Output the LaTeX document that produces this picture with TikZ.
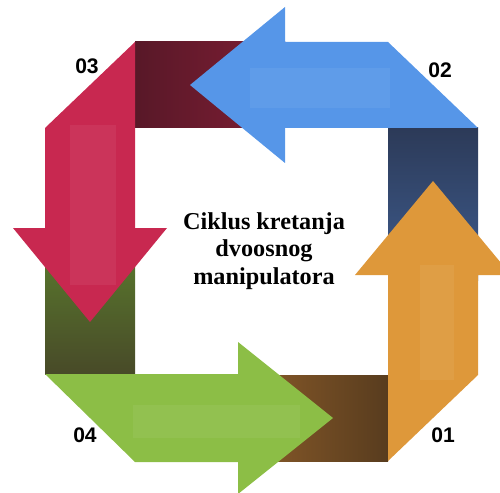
\documentclass[tikz,border=0pt]{standalone}
\usepackage{fontspec}
\setmainfont{Liberation Serif}
\newfontfamily\numfont{Liberation Sans}
\usetikzlibrary{calc}

\definecolor{red03}{RGB}{200,40,80}
\definecolor{dkred1}{RGB}{88,24,40}
\definecolor{dkred2}{RGB}{128,30,52}
\definecolor{blue02}{RGB}{86,150,232}
\definecolor{navy1}{RGB}{44,58,88}
\definecolor{navy2}{RGB}{62,92,142}
\definecolor{orange01}{RGB}{222,152,58}
\definecolor{brown1}{RGB}{140,92,42}
\definecolor{brown2}{RGB}{88,60,30}
\definecolor{green04}{RGB}{140,190,70}
\definecolor{dkgreen1}{RGB}{92,128,46}
\definecolor{dkgreen2}{RGB}{72,74,40}

\tikzstyle{stripe}=[fill=white,opacity=.06]
\tikzstyle{num}=[font=\numfont\bfseries\fontsize{12}{14}\selectfont,inner sep=0pt]
\tikzstyle{title}=[font=\bfseries\fontsize{13.8}{15.6}\selectfont,align=center,inner sep=0pt]

\begin{document}
\begin{tikzpicture}[x=0.02cm,y=-0.02cm]
    \clip (0,0) rectangle (500,493);
    \useasboundingbox (0,0) rectangle (500,493);
    % dark corner blocks
    \shade[left color=dkred1,right color=dkred2] (135,42) rectangle (285,128);
    \shade[top color=navy1,bottom color=navy2] (388,128) rectangle (478,280);
    \shade[left color=brown1,right color=brown2] (238,375) rectangle (388,461);
    \shade[top color=dkgreen1,bottom color=dkgreen2] (45,228) rectangle (135,374);
    % arrows
    \fill[red03] (135,42) -- (135,228) -- (167,228) -- (90,322) -- (13,228)
       -- (45,228) -- (45,128) -- cycle;
    \fill[blue02] (388,42) -- (478,128) -- (285,128) -- (285,163) -- (190,85)
       -- (285,7) -- (285,42) -- cycle;
    \fill[orange01] (388,461) -- (478,375) -- (478,275) -- (511,275) -- (433,181)
       -- (355,275) -- (388,275) -- cycle;
    \fill[green04] (45,374) -- (238,374) -- (238,342) -- (333,418) -- (238,494)
       -- (238,462) -- (135,462) -- cycle;
    % light stripes
    \fill[stripe] (70,125) rectangle (116,285);
    \fill[stripe] (250,68) rectangle (390,108);
    \fill[stripe] (420,265) rectangle (454,380);
    \fill[stripe] (133,405) rectangle (300,438);
    % labels
    \node[num] (n01) at (443,435) {01};
    \node[num] (n02) at (440,70) {02};
    \node[num] (n03) at (87,66) {03};
    \node[num] (n04) at (85,435) {04};
    \node[title] (cycle) at (264,251) {Ciklus kretanja\\dvoosnog\\manipulatora};
\end{tikzpicture}
\end{document}
